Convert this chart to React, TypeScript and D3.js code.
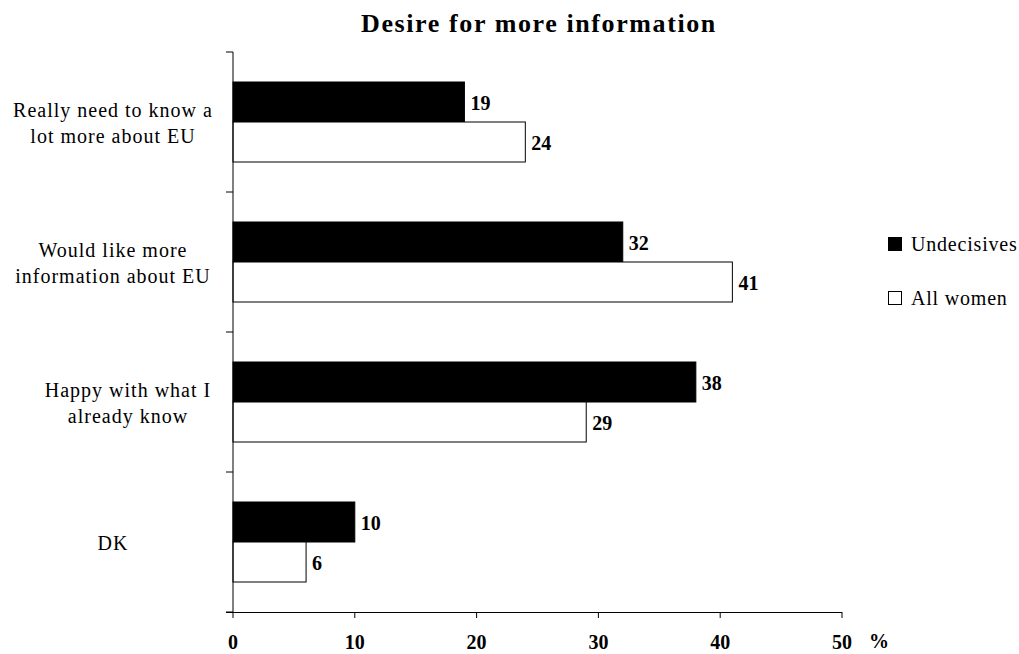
import React from "react";
import * as d3 from "d3";

const categories = [
  ["Really need to know a", "lot more about EU"],
  ["Would like more", "information about EU"],
  ["Happy with what I", "already know"],
  ["DK"],
];
const undecisives = [19, 32, 38, 10];
const allWomen = [24, 41, 29, 6];
const seriesNames = ["Undecisives", "All women"];
const xTicks = [0, 10, 20, 30, 40, 50];

// layout-only: horizontal nudge of each category label block
const labelShift = [0, 0, 15, 0];

const W = 1019;
const H = 654;
const FONT = "'Liberation Serif', 'Times New Roman', serif";

export default function App() {
  const x = d3.scaleLinear().domain([0, 50]).range([233, 842]);
  const y = d3
    .scaleBand<number>()
    .domain(categories.map((_, i) => i))
    .range([52, 612])
    .paddingInner(3 / 7)
    .paddingOuter(3 / 14);
  const step = y.step();
  const bh = y.bandwidth() / 2;
  const series = [
    { name: seriesNames[0], values: undecisives, fill: "#000" },
    { name: seriesNames[1], values: allWomen, fill: "#fff" },
  ];
  return (
    <svg
      width={W}
      height={H}
      style={{ position: "absolute", left: 0, top: 0, fontFamily: FONT }}
    >
      <text
        x={539}
        y={32}
        textAnchor="middle"
        fontSize={26}
        fontWeight="bold"
        letterSpacing={1.6}
      >
        Desire for more information
      </text>
      {/* bars */}
      {categories.map((c, i) =>
        series.map((s, j) => {
          const y0 = (y(i) as number) + j * bh;
          const v = s.values[i];
          return (
            <g key={`${i}-${j}`}>
              <rect
                x={x(0)}
                y={y0}
                width={x(v) - x(0)}
                height={bh}
                fill={s.fill}
                stroke="#000"
                strokeWidth={1}
              />
              <text
                x={x(v) + 6}
                y={y0 + bh / 2 + 7.5}
                fontSize={20}
                fontWeight="bold"
              >
                {v}
              </text>
            </g>
          );
        })
      )}
      {/* y axis */}
      <line x1={233} x2={233} y1={52} y2={612} stroke="#000" strokeWidth={1} />
      {d3.range(categories.length + 1).map((k) => {
        const yy = 52 + k * step;
        return (
          <line key={k} x1={226} x2={233} y1={yy} y2={yy} stroke="#000" />
        );
      })}
      {categories.map((lines, i) => {
        const cy = (y(i) as number) + y.bandwidth() / 2;
        const lh = 26;
        const start = cy - ((lines.length - 1) * lh) / 2 + 7.5;
        return (
          <text key={i} textAnchor="middle" fontSize={20} letterSpacing={1}>
            {lines.map((l, k) => (
              <tspan key={k} x={113 + labelShift[i]} y={start + k * lh}>
                {l}
              </tspan>
            ))}
          </text>
        );
      })}
      {/* x axis */}
      <line x1={226} x2={842} y1={612.5} y2={612.5} stroke="#000" strokeWidth={1.2} />
      {xTicks.map((t) => (
        <g key={t}>
          <line x1={x(t)} x2={x(t)} y1={612} y2={618} stroke="#000" />
          <text
            x={x(t)}
            y={649}
            textAnchor="middle"
            fontSize={20}
            fontWeight="bold"
          >
            {t}
          </text>
        </g>
      ))}
      <text x={869} y={648} fontSize={20} fontWeight="bold">
        %
      </text>
      {/* legend */}
      {series.map((s, j) => (
        <g key={s.name}>
          <rect
            x={888.5}
            y={237.5 + j * 54}
            width={13}
            height={13}
            fill={s.fill}
            stroke="#000"
          />
          <text x={911} y={251 + j * 54} fontSize={20} letterSpacing={0.8}>
            {s.name}
          </text>
        </g>
      ))}
    </svg>
  );
}
